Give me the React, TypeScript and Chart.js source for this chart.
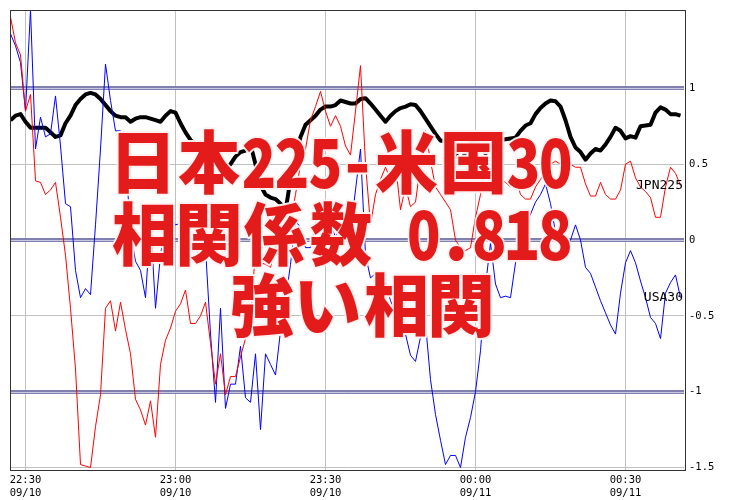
import React, { useEffect, useRef } from 'react';
import { Chart, registerables } from 'chart.js';
Chart.register(...registerables);

// minutes from 22:27, one value per minute
const jpn225: number[] = [
  1.47, 1.30, 1.22, 0.85, 0.96, 0.39, 0.38, 0.30, 0.33, 0.38,
  0.15, -0.10, -0.45, -0.85, -1.48, -1.49, -1.50, -1.23, -1.02, -0.45,
  -0.40, -0.60, -0.41, -0.59, -0.75, -1.05, -1.12, -1.22, -1.06, -1.30,
  -0.82, -0.66, -0.58, -0.47, -0.42, -0.33, -0.55, -0.55, -0.50, -0.41,
  -0.68, -0.95, -0.75, -1.02, -0.90, -0.90, -0.77, -0.65, -0.55, -0.05,
  -0.15, -0.16, -0.18, -0.05, 0.00, 0.08, 0.12, 0.30, 0.50, 0.60,
  0.79, 0.88, 0.98, 0.85, 0.75, 0.82, 0.75, 0.62, 0.56, 0.85,
  1.15, 0.50, 0.10, 0.30, 0.40, 0.48, 0.40, 0.50, 0.20, 0.35,
  0.22, 0.25, 0.50, 0.72, 0.52, 0.35, 0.30, 0.25, 0.20, 0.00,
  -0.05, -0.07, -0.05, 0.15, 0.30, 0.50, 0.45, 0.50, 0.40, 0.38,
  0.35, 0.42, 0.30, 0.27, 0.27, 0.35, 0.40, 0.45, 0.50, 0.52,
  0.50, 0.52, 0.50, 0.48, 0.48, 0.37, 0.29, 0.29, 0.38, 0.30,
  0.27, 0.27, 0.33, 0.50, 0.52, 0.41, 0.35, 0.32, 0.28, 0.15,
  0.15, 0.35, 0.48, 0.44, 0.36,
];

const usa30: number[] = [
  1.36, 1.28, 1.17, 0.85, 1.52, 0.60, 0.81, 0.68, 0.70, 0.95,
  0.62, 0.24, 0.22, -0.20, -0.38, -0.32, -0.36, 0.10, 0.60, 1.16,
  0.92, 0.72, 0.72, 0.55, 0.05, -0.14, -0.20, -0.38, 0.13, -0.45,
  -0.10, 0.12, 0.15, 0.10, 0.11, 0.11, -0.05, -0.05, -0.12, -0.05,
  -0.62, -1.07, -0.45, -1.11, -0.95, -0.95, -0.70, -1.04, -1.07, -0.75,
  -1.25, -0.75, -0.82, -0.89, -0.60, -0.40, -0.16, 0.13, 0.08, -0.05,
  -0.05, 0.10, 0.23, 0.08, 0.10, 0.02, 0.08, 0.05, 0.05, 0.33,
  0.60, -0.10, -0.25, -0.22, -0.29, -0.28, -0.40, -0.48, -0.55, -0.62,
  -0.76, -0.80, -0.64, -0.55, -0.92, -1.15, -1.32, -1.48, -1.42, -1.42,
  -1.50, -1.30, -1.17, -1.00, -0.73, -0.30, -0.02, -0.29, -0.38, -0.37,
  -0.38, -0.15, 0.00, 0.10, 0.17, 0.25, 0.30, 0.37, 0.24, 0.05,
  0.00, -0.05, 0.00, 0.10, 0.00, -0.18, -0.22, -0.31, -0.40, -0.48,
  -0.56, -0.62, -0.35, -0.15, -0.07, -0.15, -0.27, -0.38, -0.51, -0.55,
  -0.65, -0.35, -0.28, -0.23, -0.38,
];

const correlation: number[] = [
  0.79, 0.82, 0.83, 0.78, 0.74, 0.74, 0.74, 0.74, 0.71, 0.68,
  0.69, 0.77, 0.82, 0.89, 0.93, 0.96, 0.97, 0.96, 0.93, 0.89,
  0.85, 0.82, 0.81, 0.81, 0.78, 0.80, 0.81, 0.81, 0.80, 0.79,
  0.78, 0.82, 0.85, 0.84, 0.77, 0.71, 0.66, 0.63, 0.64, 0.58,
  0.51, 0.51, 0.45, 0.48, 0.50, 0.55, 0.58, 0.59, 0.63, 0.50,
  0.36, 0.30, 0.28, 0.27, 0.24, 0.19, 0.40, 0.55, 0.68, 0.76,
  0.79, 0.82, 0.86, 0.88, 0.88, 0.89, 0.92, 0.91, 0.90, 0.90,
  0.93, 0.935, 0.90, 0.86, 0.82, 0.78, 0.82, 0.85, 0.87, 0.88,
  0.895, 0.89, 0.85, 0.80, 0.75, 0.70, 0.655, 0.655, 0.65, 0.58,
  0.50, 0.58, 0.64, 0.655, 0.62, 0.57, 0.62, 0.65, 0.66, 0.665,
  0.67, 0.675, 0.72, 0.755, 0.77, 0.83, 0.87, 0.90, 0.92, 0.915,
  0.88, 0.79, 0.68, 0.61, 0.58, 0.53, 0.57, 0.60, 0.59, 0.63,
  0.68, 0.74, 0.72, 0.67, 0.685, 0.675, 0.75, 0.755, 0.76, 0.84,
  0.875, 0.86, 0.83, 0.83, 0.82,
];

const xTickMinutes: number[] = [3, 33, 63, 93, 123];
const xTickTimes: string[] = ['22:30', '23:00', '23:30', '00:00', '00:30'];
const xTickDates: string[] = ['09/10', '09/10', '09/10', '09/11', '09/11'];
const yTickValues: number[] = [1, 0.5, 0, -0.5, -1, -1.5];
const yTickLabels: string[] = ['1', '0.5', '0', '-0.5', '-1', '-1.5'];
const majorLines: number[] = [1, 0, -1];
const seriesNames: string[] = ['JPN225', 'USA30'];
const overlayLines: string[] = ['日本225-米国30', '相関係数 0.818', '強い相関'];

const toPoints = (arr: number[]) => arr.map((v, i) => ({ x: i, y: v }));

// layout of the overlay text: left edge of first cell and top of the glyphs
const overlayLayout = [
  { x0: 110, top: 133 },
  { x0: 110, top: 205 },
  { x0: 230, top: 276 },
];
const HALF = 33;
const FONT = '900 68px "Noto Sans CJK JP"';

const overlayPlugin = {
  id: 'overlay',
  beforeDatasetsDraw(chart: any) {
    const { ctx, chartArea } = chart;
    const ys = chart.scales.y;
    ctx.save();
    majorLines.forEach((v) => {
      const y = Math.round(ys.getPixelForValue(v));
      ctx.strokeStyle = '#c8c8dc';
      ctx.lineWidth = 1;
      ctx.beginPath();
      ctx.moveTo(chartArea.left, y + 0.5);
      ctx.lineTo(chartArea.right, y + 0.5);
      ctx.stroke();
    });
    ctx.restore();
  },
  afterDatasetsDraw(chart: any) {
    const { ctx, chartArea } = chart;
    ctx.save();
    // frame
    ctx.strokeStyle = '#333333';
    ctx.lineWidth = 1;
    ctx.strokeRect(Math.round(chartArea.left) - 0.5, Math.round(chartArea.top) - 0.5,
      Math.round(chartArea.right - chartArea.left) + 1, Math.round(chartArea.bottom - chartArea.top) + 1);
    // series labels at last value
    ctx.font = '13px "DejaVu Sans Mono"';
    ctx.fillStyle = '#000';
    ctx.textAlign = 'right';
    ctx.textBaseline = 'middle';
    [0, 1].forEach((di) => {
      const meta = chart.getDatasetMeta(di);
      const last = meta.data[meta.data.length - 1];
      ctx.fillText(seriesNames[di], chartArea.right - 1, last.y);
    });
    // big overlay text, monospaced cells (full width = 2 half cells)
    ctx.font = FONT;
    ctx.textAlign = 'left';
    ctx.textBaseline = 'alphabetic';
    const ref = ctx.measureText('日');
    overlayLines.forEach((str, li) => {
      const lay = overlayLayout[li];
      const baseline = lay.top + ref.actualBoundingBoxAscent;
      let x = lay.x0;
      const chars = Array.from(str);
      const draws: any[] = [];
      chars.forEach((ch) => {
        const full = ch.charCodeAt(0) > 255;
        const cw = full ? HALF * 2 : HALF;
        if (ch !== ' ') {
          const m = ctx.measureText(ch);
          const inkL = -m.actualBoundingBoxLeft;
          const inkW = m.actualBoundingBoxLeft + m.actualBoundingBoxRight;
          const maxW = cw - (full ? 4 : 3);
          const sx = inkW > maxW ? maxW / inkW : 1;
          const cx = x + cw / 2;
          const ox = cx - (inkL + inkW / 2) * sx;
          draws.push({ ch, ox, sx });
        }
        x += cw;
      });
      // halo first, then fill
      ['stroke', 'fill'].forEach((mode) => {
        draws.forEach((d) => {
          ctx.save();
          ctx.translate(d.ox, baseline);
          ctx.scale(d.sx, 1);
          if (mode === 'stroke') {
            ctx.lineJoin = 'round';
            ctx.strokeStyle = 'rgba(255,240,240,0.95)';
            ctx.lineWidth = 4;
            ctx.strokeText(d.ch, 0, 0);
          } else {
            ctx.fillStyle = '#e41b1b';
            ctx.fillText(d.ch, 0, 0);
          }
          ctx.restore();
        });
      });
    });
    ctx.restore();
  },
};

export default function App() {
  const ref = useRef<HTMLCanvasElement>(null);
  useEffect(() => {
    document.body.style.margin = '0';
    const canvas = ref.current!;
    const tickFont = { family: '"DejaVu Sans Mono"', size: 10.5 };
    const chart = new Chart(canvas, {
      type: 'line',
      data: {
        datasets: [
          { label: seriesNames[0], data: toPoints(jpn225), borderColor: '#ff0000', borderWidth: 1, pointRadius: 0, tension: 0 },
          { label: seriesNames[1], data: toPoints(usa30), borderColor: '#0000ff', borderWidth: 1, pointRadius: 0, tension: 0 },
          { label: 'corr', data: toPoints(correlation), borderColor: '#000000', borderWidth: 4, pointRadius: 0, tension: 0, borderJoinStyle: 'round' },
        ],
      },
      options: {
        animation: false,
        responsive: false,
        layout: { padding: { left: 10.5, top: 10.5, right: 0, bottom: 0 } },
        plugins: { legend: { display: false }, tooltip: { enabled: false } },
        scales: {
          x: {
            type: 'linear',
            min: 0,
            max: 134.7,
            afterFit: (s: any) => { s.height = 30; },
            afterBuildTicks: (s: any) => { s.ticks = xTickMinutes.map((v) => ({ value: v })); },
            ticks: {
              callback: (_v: any, i: number) => [xTickTimes[i], xTickDates[i]],
              font: { ...tickFont, lineHeight: 1.3 },
              color: '#000',
              padding: 3,
              maxRotation: 0,
              autoSkip: false,
            },
            grid: { color: '#c0c0c0', drawTicks: false, lineWidth: 1 },
            border: { display: false },
          },
          y: {
            position: 'right',
            min: -1.516,
            max: 1.508,
            afterFit: (s: any) => { s.width = 45; },
            afterBuildTicks: (s: any) => { s.ticks = yTickValues.map((v) => ({ value: v })); },
            ticks: {
              callback: (_v: any, i: number) => yTickLabels[i],
              font: tickFont,
              color: '#000',
              padding: 5,
            },
            grid: {
              drawTicks: false,
              color: (c: any) => (majorLines.includes(c.tick?.value) ? '#8080b0' : '#c0c0c0'),
              lineWidth: (c: any) => (majorLines.includes(c.tick?.value) ? 4 : 1),
            },
            border: { display: false },
          },
        },
      },
      plugins: [overlayPlugin],
    } as any);
    return () => chart.destroy();
  }, []);
  return (
    <div style={{ width: 729, height: 500, background: '#fff' }}>
      <canvas ref={ref} width={729} height={500} />
    </div>
  );
}
